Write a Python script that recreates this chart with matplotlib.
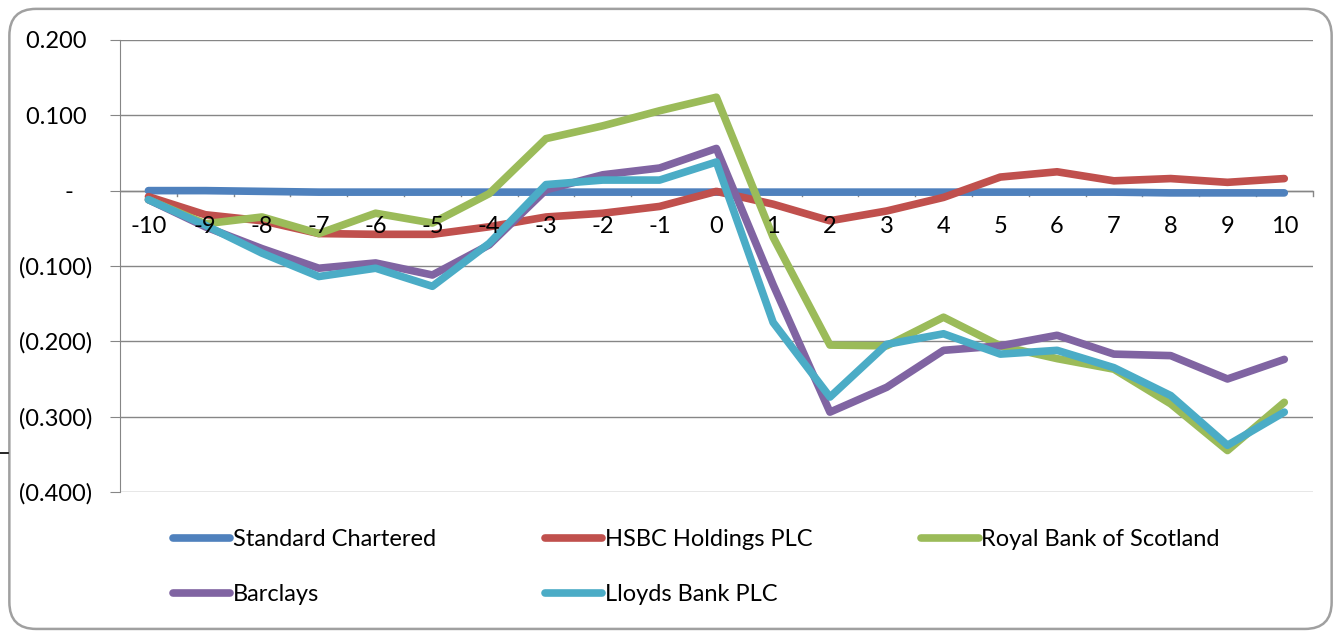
import numpy as np
import matplotlib.pyplot as plt
from matplotlib.patches import FancyBboxPatch
from matplotlib.lines import Line2D
from matplotlib.ticker import FuncFormatter

plt.rcParams['font.family'] = ['Lato', 'DejaVu Sans']

# data
days = list(range(-10, 11))
standard_chartered = [0.000, 0.000, -0.001, -0.002, -0.002, -0.002, -0.002, -0.002, -0.002, -0.002, -0.002,
                      -0.002, -0.002, -0.002, -0.002, -0.002, -0.002, -0.002, -0.003, -0.003, -0.003]
hsbc = [-0.008, -0.032, -0.040, -0.057, -0.058, -0.058, -0.048, -0.035, -0.030, -0.021, -0.001,
        -0.018, -0.040, -0.027, -0.009, 0.018, 0.025, 0.013, 0.016, 0.011, 0.016]
rbs = [-0.012, -0.044, -0.035, -0.057, -0.030, -0.043, -0.004, 0.069, 0.086, 0.106, 0.124,
       -0.062, -0.205, -0.206, -0.168, -0.206, -0.223, -0.237, -0.283, -0.345, -0.281]
barclays = [-0.012, -0.048, -0.077, -0.103, -0.096, -0.112, -0.072, 0.001, 0.021, 0.030, 0.056,
            -0.125, -0.294, -0.261, -0.212, -0.206, -0.192, -0.217, -0.219, -0.250, -0.224]
lloyds = [-0.012, -0.046, -0.083, -0.114, -0.103, -0.127, -0.070, 0.008, 0.014, 0.014, 0.038,
          -0.175, -0.274, -0.204, -0.190, -0.217, -0.212, -0.235, -0.272, -0.338, -0.294]

series = [
    ('Standard Chartered', standard_chartered, '#4F81BD'),
    ('HSBC Holdings PLC', hsbc, '#C0504D'),
    ('Royal Bank of Scotland', rbs, '#9BBB59'),
    ('Barclays', barclays, '#8064A2'),
    ('Lloyds Bank PLC', lloyds, '#4BACC6'),
]

fs = 17
fig = plt.figure(figsize=(13.37, 6.34), dpi=100)
ax = fig.add_axes([0.0898, 0.224, 0.892, 0.713])

lines = {}
for name, vals, col in series:
    ln, = ax.plot(days, vals, color=col, lw=5.5, solid_capstyle='round', label=name)
    lines[name] = ln

grid_col = '#868686'
ax.set_xlim(-10.5, 10.5)
ax.set_ylim(-0.4, 0.2)
ax.set_yticks(np.arange(-0.4, 0.21, 0.1))
ax.yaxis.grid(True, color=grid_col, lw=1)
ax.set_axisbelow(True)


def acct(v, pos):
    # accounting style labels
    if abs(v) < 1e-9:
        return '-   '
    if v < 0:
        return '(%.3f)' % abs(v)
    return '%.3f ' % v


ax.yaxis.set_major_formatter(FuncFormatter(acct))
ax.tick_params(axis='y', length=7, color=grid_col, labelsize=fs, pad=13, labelcolor='black')

# category axis crossing at zero
for s in ['top', 'right', 'bottom']:
    ax.spines[s].set_visible(False)
ax.spines['left'].set_color(grid_col)
ax.axhline(0, color=grid_col, lw=1, zorder=0.5)
ax.set_xticks(days)
ax.tick_params(axis='x', length=0)
ax.set_xticklabels([])
for d in days:
    ax.annotate(str(d), xy=(d, 0), xytext=(0, -26), textcoords='offset points',
                ha='center', va='center', fontsize=fs)
for b in np.arange(-9.5, 11, 1):
    ax.plot([b, b], [0, -0.0065], color=grid_col, lw=1, zorder=0.5, clip_on=False)

# legend: row-major order
order = ['Standard Chartered', 'Barclays', 'HSBC Holdings PLC', 'Lloyds Bank PLC', 'Royal Bank of Scotland']
leg = fig.legend([lines[n] for n in order], order, ncol=3, loc='upper left',
                 bbox_to_anchor=(0.122, 0.180), frameon=False, fontsize=fs,
                 handlelength=2.45, handletextpad=0.1, columnspacing=4.6, labelspacing=1.42,
                 borderaxespad=0)

# chart border
fig.patches.append(FancyBboxPatch((0.007, 0.008), 0.989, 0.978, boxstyle='round,pad=0,rounding_size=0.02',
                                  transform=fig.transFigure, fc='none', ec='#A0A0A0', lw=1.8,
                                  mutation_aspect=1337 / 634))
fig.lines.append(Line2D([0, 0.006], [0.285, 0.285], color='black', lw=1.2, transform=fig.transFigure))

fig.savefig('out.png', dpi=100)
